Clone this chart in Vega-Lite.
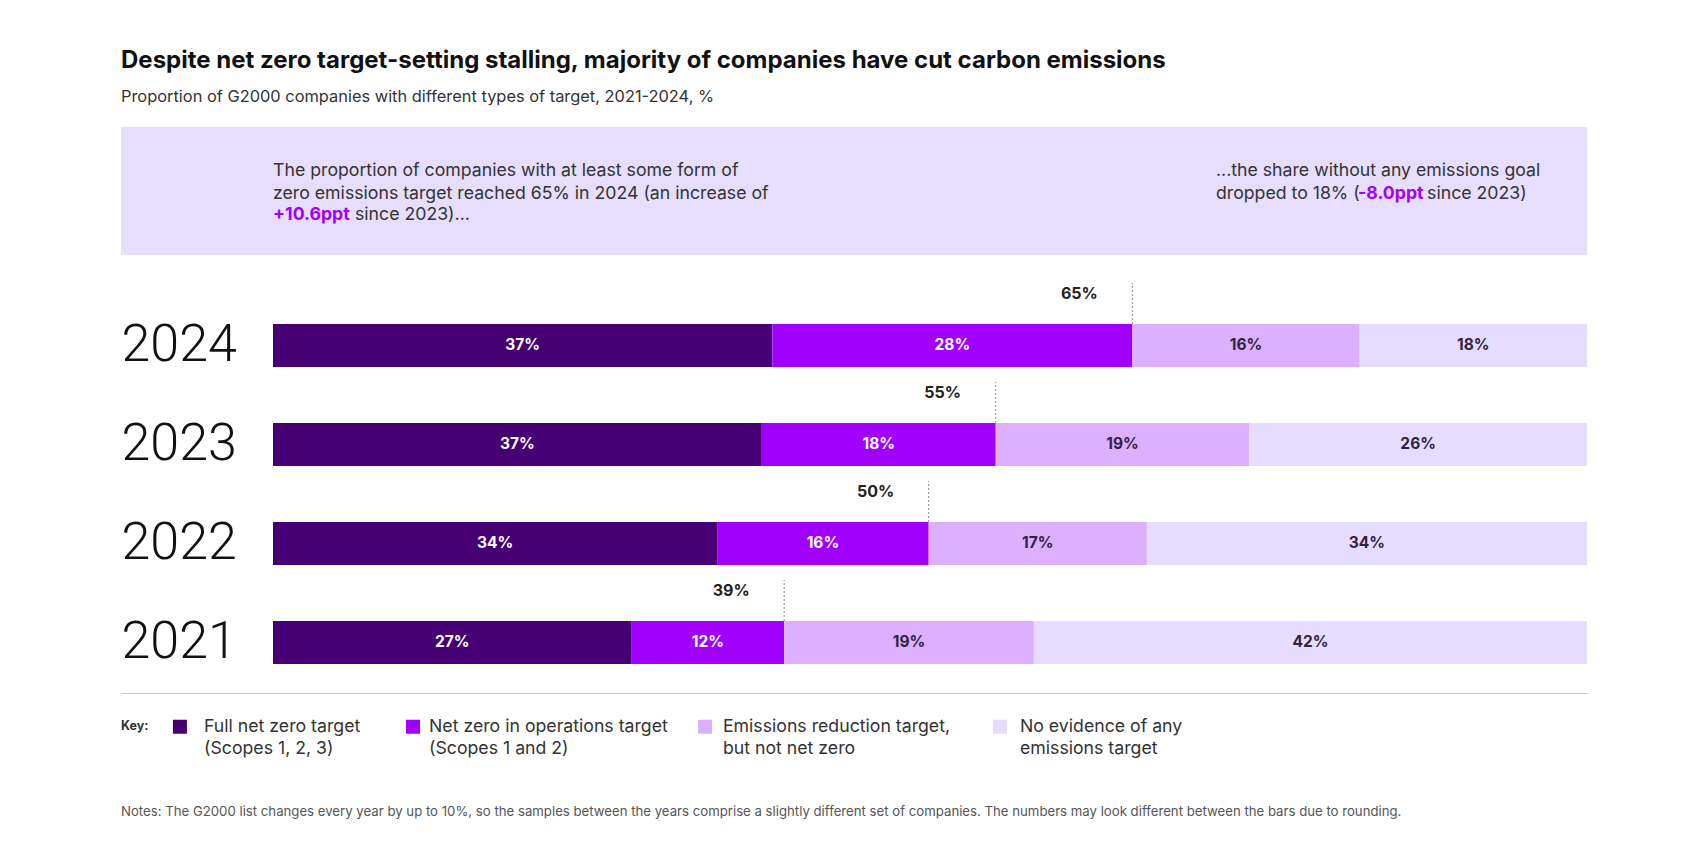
{
  "$schema": "https://vega.github.io/schema/vega-lite/v6.json",
  "background": "white",
  "padding": {"left": 121, "top": 48, "right": 96, "bottom": 0},
  "spacing": 0,
  "config": {"view": {"stroke": null}, "font": "Inter", "text": {"font": "Inter"}},
  "title": {
    "text": "Despite net zero target-setting stalling, majority of companies have cut carbon emissions",
    "subtitle": "Proportion of G2000 companies with different types of target, 2021-2024, %",
    "anchor": "start",
    "font": "Inter", "fontSize": 24, "fontWeight": 700, "color": "#111111",
    "subtitleFont": "Inter", "subtitleFontSize": 16.4, "subtitleColor": "#333333",
    "subtitlePadding": 16.3, "offset": 21.8
  },
  "vconcat": [
    {
      "width": 1466, "height": 128,
      "view": {"fill": "#E6DEFC", "stroke": null},
      "data": {"values": [{}]},
      "layer": [
        {"mark": {"type": "text", "text": "The proportion of companies with at least some form of", "align": "left", "baseline": "middle", "fontSize": 17.7, "color": "#333333"},
         "encoding": {"x": {"datum": 10.37, "type": "quantitative", "scale": {"domain": [0, 100]}, "axis": null},
                      "y": {"datum": 34.1, "type": "quantitative", "scale": {"domain": [0, 100], "reverse": true}, "axis": null}}},
        {"mark": {"type": "text", "text": "zero emissions target reached 65% in 2024 (an increase of", "align": "left", "baseline": "middle", "fontSize": 17.7, "color": "#333333"},
         "encoding": {"x": {"datum": 10.37, "type": "quantitative"}, "y": {"datum": 52.5, "type": "quantitative"}}},
        {"mark": {"type": "text", "text": "+10.6ppt", "align": "left", "baseline": "middle", "fontSize": 17.7, "fontWeight": 700, "color": "#A100FF"},
         "encoding": {"x": {"datum": 10.37, "type": "quantitative"}, "y": {"datum": 68.6, "type": "quantitative"}}},
        {"mark": {"type": "text", "text": "since 2023)...", "align": "left", "baseline": "middle", "fontSize": 17.7, "color": "#333333"},
         "encoding": {"x": {"datum": 15.96, "type": "quantitative"}, "y": {"datum": 68.6, "type": "quantitative"}}},
        {"mark": {"type": "text", "text": "...the share without any emissions goal", "align": "left", "baseline": "middle", "fontSize": 17.7, "color": "#333333"},
         "encoding": {"x": {"datum": 74.69, "type": "quantitative"}, "y": {"datum": 34.1, "type": "quantitative"}}},
        {"mark": {"type": "text", "text": "dropped to 18% (", "align": "left", "baseline": "middle", "fontSize": 17.7, "color": "#333333"},
         "encoding": {"x": {"datum": 74.69, "type": "quantitative"}, "y": {"datum": 52.5, "type": "quantitative"}}},
        {"mark": {"type": "text", "text": "-8.0ppt", "align": "left", "baseline": "middle", "fontSize": 17.7, "fontWeight": 700, "color": "#A100FF"},
         "encoding": {"x": {"datum": 84.38, "type": "quantitative"}, "y": {"datum": 52.5, "type": "quantitative"}}},
        {"mark": {"type": "text", "text": "since 2023)", "align": "left", "baseline": "middle", "fontSize": 17.7, "color": "#333333"},
         "encoding": {"x": {"datum": 89.09, "type": "quantitative"}, "y": {"datum": 52.5, "type": "quantitative"}}}
      ]
    },
    {
      "width": 1466, "height": 438,
      "data": {"values": [
        {"year": "2024", "cat": "Full net zero target (Scopes 1, 2, 3)", "order": 1, "value": 38.0, "label": "37%"},
        {"year": "2024", "cat": "Net zero in operations target (Scopes 1 and 2)", "order": 2, "value": 27.4, "label": "28%"},
        {"year": "2024", "cat": "Emissions reduction target, but not net zero", "order": 3, "value": 17.3, "label": "16%"},
        {"year": "2024", "cat": "No evidence of any emissions target", "order": 4, "value": 17.3, "label": "18%"},
        {"year": "2023", "cat": "Full net zero target (Scopes 1, 2, 3)", "order": 1, "value": 37.2, "label": "37%"},
        {"year": "2023", "cat": "Net zero in operations target (Scopes 1 and 2)", "order": 2, "value": 17.8, "label": "18%"},
        {"year": "2023", "cat": "Emissions reduction target, but not net zero", "order": 3, "value": 19.3, "label": "19%"},
        {"year": "2023", "cat": "No evidence of any emissions target", "order": 4, "value": 25.7, "label": "26%"},
        {"year": "2022", "cat": "Full net zero target (Scopes 1, 2, 3)", "order": 1, "value": 33.8, "label": "34%"},
        {"year": "2022", "cat": "Net zero in operations target (Scopes 1 and 2)", "order": 2, "value": 16.1, "label": "16%"},
        {"year": "2022", "cat": "Emissions reduction target, but not net zero", "order": 3, "value": 16.6, "label": "17%"},
        {"year": "2022", "cat": "No evidence of any emissions target", "order": 4, "value": 33.5, "label": "34%"},
        {"year": "2021", "cat": "Full net zero target (Scopes 1, 2, 3)", "order": 1, "value": 27.3, "label": "27%"},
        {"year": "2021", "cat": "Net zero in operations target (Scopes 1 and 2)", "order": 2, "value": 11.6, "label": "12%"},
        {"year": "2021", "cat": "Emissions reduction target, but not net zero", "order": 3, "value": 19.0, "label": "19%"},
        {"year": "2021", "cat": "No evidence of any emissions target", "order": 4, "value": 42.1, "label": "42%"}
      ]},
      "encoding": {
        "y": {"field": "year", "type": "nominal", "sort": ["2024", "2023", "2022", "2021"], "title": null,
              "scale": {"paddingInner": 0.5657, "paddingOuter": 0.495, "align": 0.704},
              "axis": {"title": null, "ticks": false, "domain": false, "grid": false, "labelAlign": "left", "labelBaseline": "middle", "labelPadding": 0, "labelFont": "Roboto", "labelFontWeight": 300, "labelFontSize": 52, "labelColor": "#111111"}}
      },
      "layer": [
        {"mark": {"type": "bar"},
         "encoding": {
           "x": {"field": "value", "type": "quantitative", "stack": "zero", "scale": {"domain": [0, 100], "range": [152, 1466]}, "axis": null},
           "color": {"field": "cat", "type": "nominal", "legend": null,
                     "scale": {"domain": ["Full net zero target (Scopes 1, 2, 3)", "Net zero in operations target (Scopes 1 and 2)", "Emissions reduction target, but not net zero", "No evidence of any emissions target"],
                               "range": ["#460073", "#A100FF", "#DCAFFF", "#E6DCFF"]}},
           "order": {"field": "order", "type": "quantitative"}
         }},
        {"mark": {"type": "text", "fontSize": 15.5, "fontWeight": 700, "align": "center", "baseline": "middle"},
         "encoding": {
           "x": {"field": "value", "type": "quantitative", "stack": "zero", "bandPosition": 0.5},
           "detail": {"field": "cat", "type": "nominal"},
           "order": {"field": "order", "type": "quantitative"},
           "text": {"field": "label", "type": "nominal"},
           "color": {"condition": {"test": "datum.order <= 2", "value": "#ffffff"}, "value": "#2f2340"}
         }},
        {"data": {"values": [
          {"year": "2024", "total": 65.4, "totalLabel": "65%"},
          {"year": "2023", "total": 55.0, "totalLabel": "55%"},
          {"year": "2022", "total": 49.9, "totalLabel": "50%"},
          {"year": "2021", "total": 38.9, "totalLabel": "39%"}
         ]},
         "layer": [
           {"mark": {"type": "rule", "strokeDash": [2, 2], "color": "#8a8a8a", "strokeWidth": 1, "yOffset": -21.5, "y2Offset": -62.5},
            "encoding": {"x": {"field": "total", "type": "quantitative"}, "y2": {"field": "year"}}},
           {"mark": {"type": "text", "fontSize": 16, "fontWeight": 700, "color": "#222222", "align": "center", "baseline": "middle", "dx": -53, "dy": -51.5},
            "encoding": {"x": {"field": "total", "type": "quantitative"}, "text": {"field": "totalLabel", "type": "nominal"}}}
         ]}
      ]
    },
    {
      "width": 1466, "height": 140,
      "data": {"values": [{}]},
      "layer": [
        {"mark": {"type": "text", "text": "Key:", "align": "left", "baseline": "middle", "fontSize": 12.5, "fontWeight": 700, "color": "#333333"},
         "encoding": {"x": {"datum": 0, "type": "quantitative", "scale": {"domain": [0, 100]},
                            "axis": {"orient": "top", "domain": true, "domainColor": "#cdc3cd", "domainWidth": 1, "ticks": false, "labels": false, "grid": false, "title": null}},
                      "y": {"datum": 23.3, "type": "quantitative", "scale": {"domain": [0, 100], "reverse": true}, "axis": null}}},
        {"mark": {"type": "square", "size": 196, "color": "#460073", "opacity": 1},
         "encoding": {"x": {"datum": 4.02, "type": "quantitative"}, "y": {"datum": 24.1, "type": "quantitative"}}},
        {"mark": {"type": "square", "size": 196, "color": "#A100FF", "opacity": 1},
         "encoding": {"x": {"datum": 19.92, "type": "quantitative"}, "y": {"datum": 24.1, "type": "quantitative"}}},
        {"mark": {"type": "square", "size": 196, "color": "#DCAFFF", "opacity": 1},
         "encoding": {"x": {"datum": 39.84, "type": "quantitative"}, "y": {"datum": 24.1, "type": "quantitative"}}},
        {"mark": {"type": "square", "size": 196, "color": "#E6DCFF", "opacity": 1},
         "encoding": {"x": {"datum": 59.96, "type": "quantitative"}, "y": {"datum": 24.1, "type": "quantitative"}}},
        {"mark": {"type": "text", "text": "Full net zero target", "align": "left", "baseline": "middle", "fontSize": 17.7, "color": "#333333"},
         "encoding": {"x": {"datum": 5.66, "type": "quantitative"}, "y": {"datum": 24.3, "type": "quantitative"}}},
        {"mark": {"type": "text", "text": "(Scopes 1, 2, 3)", "align": "left", "baseline": "middle", "fontSize": 17.7, "color": "#333333"},
         "encoding": {"x": {"datum": 5.66, "type": "quantitative"}, "y": {"datum": 40.1, "type": "quantitative"}}},
        {"mark": {"type": "text", "text": "Net zero in operations target", "align": "left", "baseline": "middle", "fontSize": 17.7, "color": "#333333"},
         "encoding": {"x": {"datum": 21.01, "type": "quantitative"}, "y": {"datum": 24.3, "type": "quantitative"}}},
        {"mark": {"type": "text", "text": "(Scopes 1 and 2)", "align": "left", "baseline": "middle", "fontSize": 17.7, "color": "#333333"},
         "encoding": {"x": {"datum": 21.01, "type": "quantitative"}, "y": {"datum": 40.1, "type": "quantitative"}}},
        {"mark": {"type": "text", "text": "Emissions reduction target,", "align": "left", "baseline": "middle", "fontSize": 17.7, "color": "#333333"},
         "encoding": {"x": {"datum": 41.06, "type": "quantitative"}, "y": {"datum": 24.3, "type": "quantitative"}}},
        {"mark": {"type": "text", "text": "but not net zero", "align": "left", "baseline": "middle", "fontSize": 17.7, "color": "#333333"},
         "encoding": {"x": {"datum": 41.06, "type": "quantitative"}, "y": {"datum": 40.1, "type": "quantitative"}}},
        {"mark": {"type": "text", "text": "No evidence of any", "align": "left", "baseline": "middle", "fontSize": 17.7, "color": "#333333"},
         "encoding": {"x": {"datum": 61.32, "type": "quantitative"}, "y": {"datum": 24.3, "type": "quantitative"}}},
        {"mark": {"type": "text", "text": "emissions target", "align": "left", "baseline": "middle", "fontSize": 17.7, "color": "#333333"},
         "encoding": {"x": {"datum": 61.32, "type": "quantitative"}, "y": {"datum": 40.1, "type": "quantitative"}}},
        {"mark": {"type": "text", "text": "Notes: The G2000 list changes every year by up to 10%, so the samples between the years comprise a slightly different set of companies. The numbers may look different between the bars due to rounding.", "align": "left", "baseline": "middle", "fontSize": 13.2, "color": "#555555"},
         "encoding": {"x": {"datum": 0, "type": "quantitative"}, "y": {"datum": 85, "type": "quantitative"}}}
      ]
    }
  ]
}
